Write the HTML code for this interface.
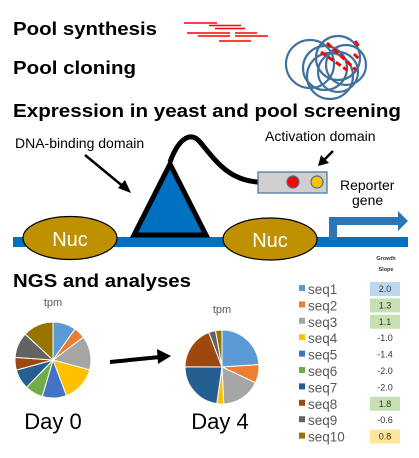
<!DOCTYPE html>
<html><head><meta charset="utf-8"><style>
body{margin:0;background:#fff;}
svg{display:block;font-family:"Liberation Sans",sans-serif;}
</style></head><body>
<svg id="fig" width="419" height="458" viewBox="0 0 419 458">
<g font-weight="bold" font-size="18" fill="#000">
<text x="13" y="35" textLength="144" lengthAdjust="spacingAndGlyphs">Pool synthesis</text>
<text x="13" y="74" textLength="123" lengthAdjust="spacingAndGlyphs">Pool cloning</text>
<text x="13" y="117" textLength="388" lengthAdjust="spacingAndGlyphs">Expression in yeast and pool screening</text>
<text x="13" y="287" textLength="178" lengthAdjust="spacingAndGlyphs">NGS and analyses</text>
</g>
<g stroke="#f00" stroke-width="1.6">
<line x1="184" y1="23" x2="217" y2="23"/><line x1="209" y1="25.5" x2="241" y2="25.5"/>
<line x1="215" y1="28.5" x2="245" y2="28.5"/><line x1="187" y1="33" x2="230" y2="33"/>
<line x1="235" y1="33" x2="257" y2="33"/><line x1="198" y1="36" x2="230" y2="36"/>
<line x1="235" y1="36" x2="268" y2="36"/><line x1="219" y1="41" x2="251" y2="41"/>
</g>
<g fill="none" stroke="#41719c" stroke-width="2.2">
<circle cx="310" cy="64" r="24"/><circle cx="325" cy="68" r="22"/><circle cx="338" cy="58" r="22"/>
<circle cx="346" cy="65" r="20"/><circle cx="330" cy="76" r="23"/><circle cx="338" cy="72" r="20"/>
</g>
<g stroke="#f00" stroke-width="3" stroke-dasharray="6,3">
<line x1="327" y1="43" x2="356" y2="70"/><line x1="321" y1="52" x2="347" y2="70"/><line x1="355" y1="41" x2="360" y2="48"/><line x1="354" y1="54" x2="359" y2="59"/>
</g>
<rect x="13" y="237" width="395" height="10" fill="#0070c0"/>
<path d="M333 240 V221 H400" fill="none" stroke="#2e75b6" stroke-width="8"/>
<polygon points="398,211 408,221 398,231" fill="#2e75b6"/>
<text x="340" y="190" font-size="14">Reporter</text>
<text x="352" y="205" font-size="14">gene</text>
<ellipse cx="70" cy="238" rx="47" ry="21.5" fill="#bf9000" stroke="#000" stroke-width="1.2"/>
<text x="70" y="246" font-size="20" fill="#fff" text-anchor="middle">Nuc</text>
<ellipse cx="270" cy="239" rx="47" ry="21" fill="#bf9000" stroke="#000" stroke-width="1.2"/>
<text x="270" y="247" font-size="20" fill="#fff" text-anchor="middle">Nuc</text>
<path d="M170 162 C178 140,190 130,200 142 C215 160,228 180,258 182" fill="none" stroke="#000" stroke-width="5"/>
<polygon points="170,164 134,235 206,235" fill="#0070c0" stroke="#000" stroke-width="5" stroke-linejoin="miter"/>
<rect x="258" y="172" width="69" height="21" fill="#d0cece" stroke="#41719c" stroke-width="1.2"/>
<circle cx="293" cy="182" r="6" fill="#f00" stroke="#41719c" stroke-width="1.2"/>
<circle cx="317" cy="182" r="6" fill="#ffc000" stroke="#41719c" stroke-width="1.2"/>
<text x="15" y="148" font-size="14">DNA-binding domain</text>
<line x1="85" y1="155" x2="125" y2="188" stroke="#000" stroke-width="2.5"/>
<polygon points="131,193 118,188 125,180" fill="#000"/>
<text x="265" y="141" font-size="14">Activation domain</text>
<line x1="333" y1="151" x2="324" y2="160" stroke="#000" stroke-width="2.5"/>
<polygon points="318,166 321,155 329,163" fill="#000"/>
<text x="53" y="306" font-size="11" fill="#595959" text-anchor="middle">tpm</text>
<text x="222" y="313" font-size="11" fill="#595959" text-anchor="middle">tpm</text>
<g id="pie0"></g>
<g id="pie4"></g>
<line x1="110" y1="362" x2="160" y2="357" stroke="#000" stroke-width="4"/>
<polygon points="171,356 157,349 158,364" fill="#000"/>
<text x="53" y="429" font-size="22" text-anchor="middle">Day 0</text>
<text x="220" y="429" font-size="22" text-anchor="middle">Day 4</text>
<text x="386" y="260" font-size="5.5" text-anchor="middle" font-weight="bold" fill="#333">Growth</text>
<text x="386" y="271" font-size="5.5" text-anchor="middle" font-weight="bold" fill="#333">Slope</text>
<g id="legend"></g>
</svg>
<script>
const seqs=["seq1","seq2","seq3","seq4","seq5","seq6","seq7","seq8","seq9","seq10"];
const day0=[10,5,14.7,15.3,10.5,7.8,8.6,5.5,11,13.3];
const day4=[23.9,8,17.2,3,0,0,22.8,19,3,2.8];
const slopeList=["2.0","1.3","1.1","-1.0","-1.4","-2.0","-2.0","1.8","-0.6","0.8"];
const colors=["#5b9bd5","#ed7d31","#a5a5a5","#ffc000","#4472c4","#70ad47","#255e91","#9e480e","#636363","#997300"];
const NS="http://www.w3.org/2000/svg";
function pie(g,vals,cx,cy,r){
  const tot=vals.reduce((a,b)=>a+b,0);let a=0;
  vals.forEach((v,i)=>{
    if(v<=0)return;
    const a0=a/tot*2*Math.PI;a+=v;const a1=a/tot*2*Math.PI;
    const p=document.createElementNS(NS,"path");
    const x0=cx+r*Math.sin(a0),y0=cy-r*Math.cos(a0),x1=cx+r*Math.sin(a1),y1=cy-r*Math.cos(a1);
    p.setAttribute("d",`M${cx},${cy}L${x0},${y0}A${r},${r} 0 ${a1-a0>Math.PI?1:0} 1 ${x1},${y1}Z`);
    p.setAttribute("fill",colors[i]);p.setAttribute("stroke","#fff");p.setAttribute("stroke-width","1");
    
    
    g.appendChild(p);
  });
}
pie(document.getElementById("pie0"),day0,53,360,38);
pie(document.getElementById("pie4"),day4,222,367,37);
const lg=document.getElementById("legend");
const boxCol={"2.0":"#bdd7ee","1.3":"#c6e0b4","1.1":"#c6e0b4","1.8":"#c6e0b4","0.8":"#ffe699"};
seqs.forEach((s,i)=>{
  const y=289+i*16.4;
  const m=document.createElementNS(NS,"rect");
  m.setAttribute("x",299);m.setAttribute("y",y-4);m.setAttribute("width",6);m.setAttribute("height",6);m.setAttribute("fill",colors[i]);
  
  
  lg.appendChild(m);
  const t=document.createElementNS(NS,"text");
  t.setAttribute("x",308);t.setAttribute("y",y+5);t.setAttribute("font-size","13.5");t.setAttribute("fill","#595959");t.textContent=s;
  
  
  lg.appendChild(t);
  const v=slopeList[i];
  if(boxCol[v]&&!(v==="2.0"&&i!==0)){
    const b=document.createElementNS(NS,"rect");
    b.setAttribute("x",370);b.setAttribute("y",y-7);b.setAttribute("width",30);b.setAttribute("height",14);b.setAttribute("fill",boxCol[v]);
    
    
    lg.appendChild(b);
  }
  const vt=document.createElementNS(NS,"text");
  vt.setAttribute("x",385);vt.setAttribute("y",y+3);vt.setAttribute("font-size","9");vt.setAttribute("text-anchor","middle");vt.setAttribute("fill","#333");vt.textContent=v;
  
  
  lg.appendChild(vt);
});
</script>
</body></html>
